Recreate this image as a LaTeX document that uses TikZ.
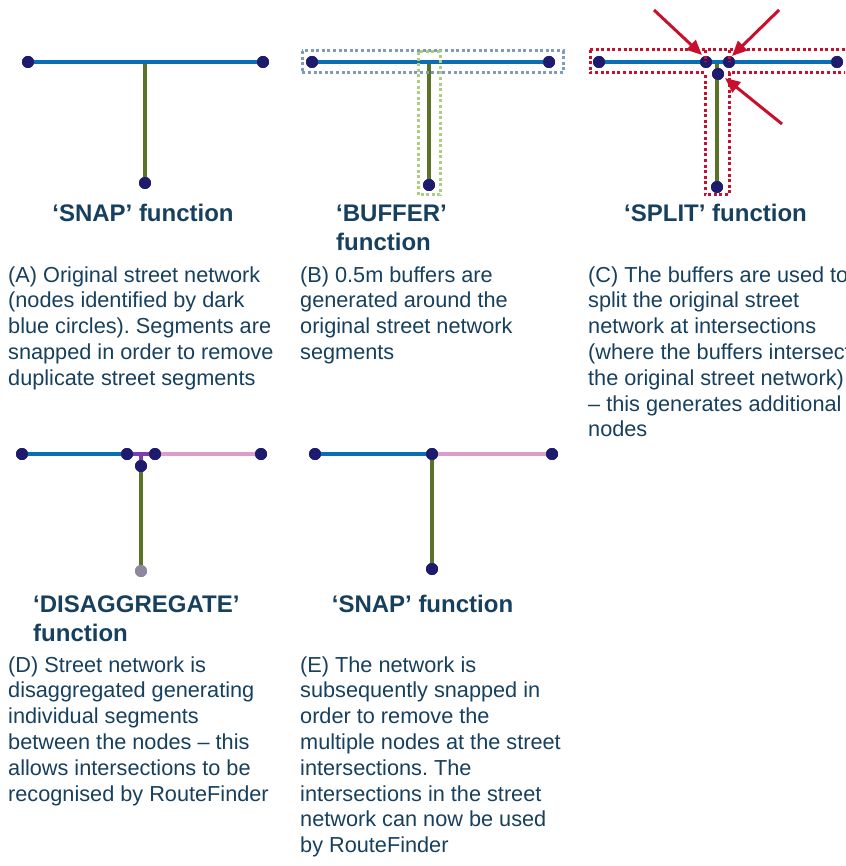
\documentclass[tikz,border=0pt]{standalone}
\usepackage{fontspec}
\setmainfont{Liberation Sans}
\usetikzlibrary{arrows.meta}
\frenchspacing
\definecolor{txt}{HTML}{17405E}
\definecolor{street}{HTML}{0A6EB4}
\definecolor{seg}{HTML}{5B7327}
\definecolor{nd}{HTML}{1E1B6E}
\definecolor{pinkseg}{HTML}{DA9DCC}
\definecolor{purpseg}{HTML}{7A3FA8}
\definecolor{greynd}{HTML}{8F879F}
\definecolor{bufblue}{HTML}{7F9DB9}
\definecolor{bufgreen}{HTML}{A9CF7F}
\definecolor{redc}{HTML}{C8102E}
\tikzset{
  pt/.style={circle,fill=nd,inner sep=0pt,minimum size=12pt},
  gpt/.style={circle,fill=greynd,inner sep=0pt,minimum size=12pt},
  hline/.style={line width=3.4pt,street},
  vline/.style={line width=3.4pt,seg},
  pline/.style={line width=3.4pt,pinkseg},
  uline/.style={line width=3.4pt,purpseg},
  buf/.style={line width=3pt,dash pattern=on 3pt off 2.6pt},
  redarrow/.style={line width=3pt,redc,-{Triangle[length=15pt,width=13pt]}},
  head/.style={inner sep=0pt,text=txt,font=\fontsize{24}{29}\selectfont\bfseries,align=left},
  body/.style={inner sep=0pt,text=txt,font=\fontsize{21.7}{25.8}\selectfont,align=left,anchor=base west}
}
\begin{document}
\begin{tikzpicture}[x=1pt,y=-1pt]
\useasboundingbox[fill=white] (0,0) rectangle (845,866);
% ---------- Panel A ----------
\coordinate (aj) at (145,62);
\node[pt] (a1) at (28,62) {};
\node[pt] (a2) at (263,62) {};
\node[pt] (a3) at (145,183) {};
\draw[vline] (aj) -- (a3);
\draw[hline] (a1) -- (a2);
\node[pt] at (a1) {};\node[pt] at (a2) {};\node[pt] at (a3) {};
\node[head,anchor=base] (ha) at (143,222) {‘SNAP’ function};
% anchor base = baseline of last line
\node[body] (ta) at (8,385.2) {(A) Original street network\\(nodes identified by dark\\blue circles). Segments are\\snapped in order to remove\\duplicate street segments};
% ---------- Panel B ----------
\coordinate (bj) at (429,62);
\node[pt] (b1) at (312,62) {};
\node[pt] (b2) at (549,62) {};
\node[pt] (b3) at (429,185) {};
\draw[vline] (bj) -- (b3);
\draw[hline] (b1) -- (b2);
\node[pt] at (b1) {};\node[pt] at (b2) {};\node[pt] at (b3) {};
\draw[buf,bufblue] (302,51) rectangle (563,73);
\draw[buf,bufgreen] (418,52) rectangle (440,195);
\node[head,anchor=base west] (hb) at (336,251) {‘BUFFER’\\function};
\node[body] (tb) at (300,359.4) {(B) 0.5m buffers are\\generated around the\\original street network\\segments};
% ---------- Panel C ----------
\coordinate (cj) at (717,62);
\node[pt] (c1) at (599,62) {};
\node[pt] (c2) at (706,62) {};
\node[pt] (c3) at (729,62) {};
\node[pt] (c4) at (837,62) {};
\node[pt] (c5) at (718,74) {};
\node[pt] (c6) at (717,187) {};
\draw[vline] (cj) -- (c6);
\draw[hline] (c1) -- (c4);
\node[pt] at (c1) {};\node[pt] at (c2) {};\node[pt] at (c3) {};\node[pt] at (c4) {};\node[pt] at (c5) {};\node[pt] at (c6) {};
\draw[buf,redc] (590,50) -- (845,50);
\draw[buf,redc] (590,50) -- (590,73) -- (705,73) -- (705,195) -- (729,195) -- (729,73) -- (845,73);
\draw[buf,redc] (705,50) -- (705,62);
\draw[buf,redc] (729,50) -- (729,62);
\coordinate (r1s) at (654,10);
\coordinate (r1e) at (702,55);
\coordinate (r2s) at (779,10);
\coordinate (r2e) at (732,56);
\coordinate (r3s) at (782,124);
\coordinate (r3e) at (725,78);
\draw[redarrow] (r1s) -- (r1e);
\draw[redarrow] (r2s) -- (r2e);
\draw[redarrow] (r3s) -- (r3e);
\node[head,anchor=base] (hc) at (715.5,222) {‘SPLIT’ function};
\node[body] (tc) at (588,436.8) {(C) The buffers are used to\\split the original street\\network at intersections\\(where the buffers intersect\\the original street network)\\– this generates additional\\nodes};
% ---------- Panel D ----------
\node[pt] (d1) at (22,454) {};
\node[pt] (d2) at (127,454) {};
\node[pt] (d3) at (155,454) {};
\node[pt] (d4) at (261,454) {};
\node[pt] (d5) at (141,466) {};
\node[gpt] (d6) at (141,571) {};
\coordinate (dj) at (141,454);
\draw[vline] (d5) -- (d6);
\draw[hline] (d1) -- (d2);
\draw[pline] (d3) -- (d4);
\draw[uline] (d2) -- (d3);
\draw[uline] (dj) -- (d5);
\node[pt] at (d1) {};\node[pt] at (d2) {};\node[pt] at (d3) {};\node[pt] at (d4) {};\node[pt] at (d5) {};\node[gpt] at (d6) {};
\node[head,anchor=base west] (hd) at (33,641) {‘DISAGGREGATE’\\function};
\node[body] (td) at (8,801) {(D) Street network is\\disaggregated generating\\individual segments\\between the nodes – this\\allows intersections to be\\recognised by RouteFinder};
% ---------- Panel E ----------
\node[pt] (e1) at (315,454) {};
\node[pt] (e2) at (432,454) {};
\node[pt] (e3) at (552,454) {};
\node[pt] (e4) at (432,569) {};
\draw[vline] (e2) -- (e4);
\draw[hline] (e1) -- (e2);
\draw[pline] (e2) -- (e3);
\node[pt] at (e1) {};\node[pt] at (e2) {};\node[pt] at (e3) {};\node[pt] at (e4) {};
\node[head,anchor=base] (he) at (422.5,612) {‘SNAP’ function};
\node[body] (te) at (300,852.6) {(E) The network is\\subsequently snapped in\\order to remove the\\multiple nodes at the street\\intersections. The\\intersections in the street\\network can now be used\\by RouteFinder};
\end{tikzpicture}
\end{document}
